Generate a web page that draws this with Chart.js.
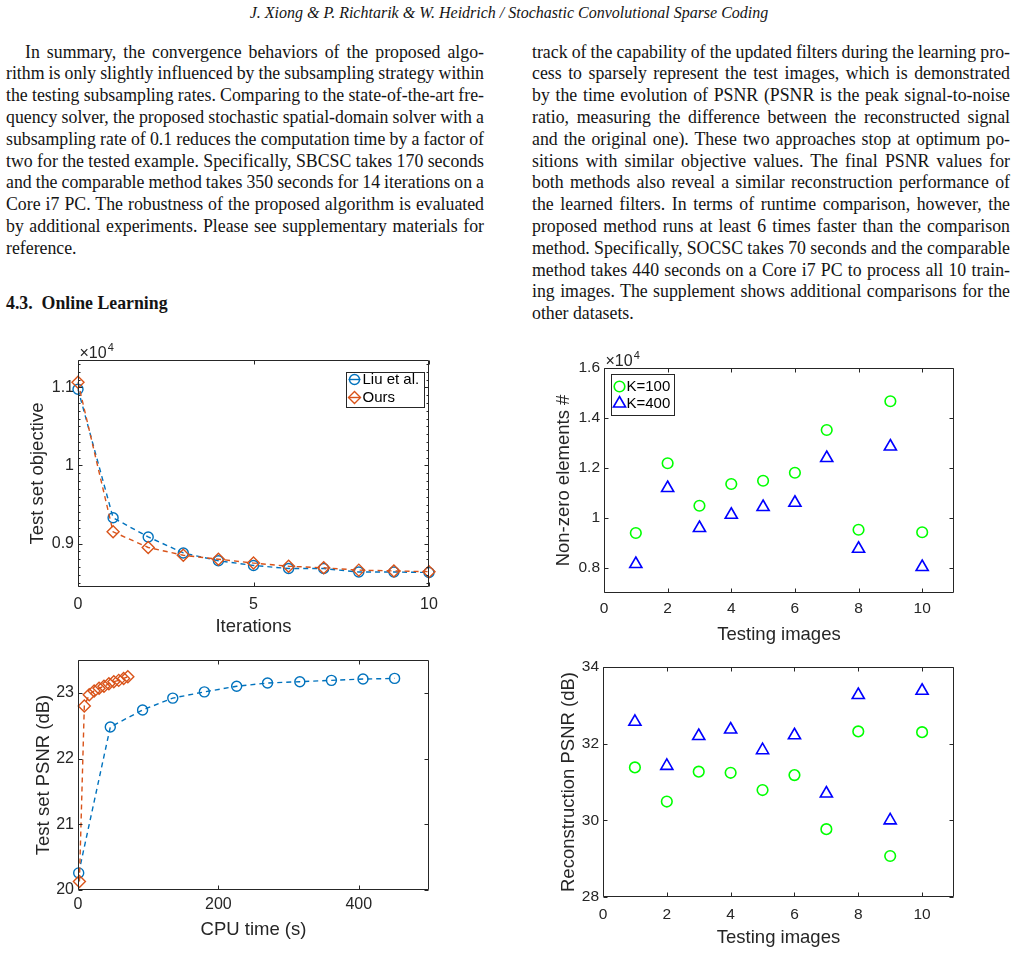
<!DOCTYPE html>
<html>
<head>
<meta charset="utf-8">
<script src="https://cdn.jsdelivr.net/npm/chart.js@4.4.1/dist/chart.umd.min.js"></script>
<style>
  html, body { margin: 0; padding: 0; background: #fff; }
  body { width: 1018px; height: 962px; position: relative; overflow: hidden;
         font-family: "Liberation Serif", "Times New Roman", serif; color: #141414; }
  .hdr { position: absolute; top: 3px; left: 0; width: 1018px; text-align: center;
         font-style: italic; font-size: 16px; line-height: 20px; }
  .ln { position: absolute; white-space: nowrap; font-size: 17.8px; line-height: 22px; }
  .sec { position: absolute; left: 6px; top: 292px; font-weight: bold; font-size: 17.8px; line-height: 22px; }
  .plot { position: absolute; }
</style>
</head>
<body>
<div class="hdr">J. Xiong &amp; P. Richtarik &amp; W. Heidrich / Stochastic Convolutional Sparse Coding</div>
<div class="sec">4.3.&nbsp; Online Learning</div>

<div class="plot" style="left:20px;top:335px"><canvas id="objChart" width="430" height="310"></canvas></div>
<div class="plot" style="left:20px;top:645px"><canvas id="psnrTimeChart" width="430" height="310"></canvas></div>
<div class="plot" style="left:540px;top:340px"><canvas id="nonzeroChart" width="440" height="310"></canvas></div>
<div class="plot" style="left:540px;top:650px"><canvas id="reconChart" width="440" height="310"></canvas></div>

<script>
// ---- data ----

// test set objective vs iterations
const iterations = [0, 1, 2, 3, 4, 5, 6, 7, 8, 9, 10];
const liuObjective = [10975, 9330, 9085, 8880, 8780, 8720, 8680, 8680, 8636, 8636, 8630];
const oursObjective = [11065, 9150, 8950, 8850, 8800, 8750, 8710, 8690, 8660, 8650, 8640];
const iterTicks = [0, 5, 10];
const objTicks = [9000, 10000, 11000];

// test set PSNR vs CPU time
const liuTime = [1, 46, 92, 135, 180, 226, 270, 316, 361, 406, 451];
const liuPSNR = [20.26, 22.48, 22.74, 22.92, 23.015, 23.1, 23.15, 23.17, 23.19, 23.21, 23.22];
const oursTime = [2, 9, 16, 23, 30, 37, 44, 51, 58, 65, 71];
const oursPSNR = [20.13, 22.8, 22.97, 23.03, 23.07, 23.1, 23.14, 23.17, 23.19, 23.22, 23.245];
const timeTicks = [0, 200, 400];
const psnrTicks = [20, 21, 22, 23];

// per testing image, K=100 vs K=400 filters
const testingImages = [1, 2, 3, 4, 5, 6, 7, 8, 9, 10];
const k100Nonzero = [9400, 12190, 10490, 11360, 11490, 11810, 13520, 9530, 14670, 9430];
const k400Nonzero = [8160, 11200, 9600, 10130, 10440, 10610, 12400, 8770, 12860, 8040];
const k100Recon = [31.38, 30.49, 31.27, 31.24, 30.79, 31.18, 29.77, 32.32, 29.07, 32.30];
const k400Recon = [32.57, 31.42, 32.20, 32.37, 31.83, 32.22, 30.70, 33.27, 30.00, 33.38];
const imageTicks = [0, 2, 4, 6, 8, 10];
const nonzeroTicks = [8000, 10000, 12000, 14000, 16000];
const reconTicks = [28, 30, 32, 34];

const leftText = [
  "In summary, the convergence behaviors of the proposed algo-",
  "rithm is only slightly influenced by the subsampling strategy within",
  "the testing subsampling rates. Comparing to the state-of-the-art fre-",
  "quency solver, the proposed stochastic spatial-domain solver with a",
  "subsampling rate of 0.1 reduces the computation time by a factor of",
  "two for the tested example. Specifically, SBCSC takes 170 seconds",
  "and the comparable method takes 350 seconds for 14 iterations on a",
  "Core i7 PC. The robustness of the proposed algorithm is evaluated",
  "by additional experiments. Please see supplementary materials for",
  "reference."
];
const rightText = [
  "track of the capability of the updated filters during the learning pro-",
  "cess to sparsely represent the test images, which is demonstrated",
  "by the time evolution of PSNR (PSNR is the peak signal-to-noise",
  "ratio, measuring the difference between the reconstructed signal",
  "and the original one). These two approaches stop at optimum po-",
  "sitions with similar objective values. The final PSNR values for",
  "both methods also reveal a similar reconstruction performance of",
  "the learned filters. In terms of runtime comparison, however, the",
  "proposed method runs at least 6 times faster than the comparison",
  "method. Specifically, SOCSC takes 70 seconds and the comparable",
  "method takes 440 seconds on a Core i7 PC to process all 10 train-",
  "ing images. The supplement shows additional comparisons for the",
  "other datasets."
];

// justified text lines (word-spacing stretched to the column width)
function placeLines(lines, left, width, firstCenter, step, indent) {
  lines.forEach((t, i) => {
    const d = document.createElement("div");
    d.className = "ln";
    d.textContent = t;
    const ind = i === 0 ? indent : 0;
    d.style.left = (left + ind) + "px";
    d.style.top = (firstCenter + i * step - 11) + "px";
    document.body.appendChild(d);
    if (i < lines.length - 1) {
      const w = d.getBoundingClientRect().width;
      const spaces = (t.match(/ /g) || []).length;
      d.style.wordSpacing = ((width - ind - w) / spaces) + "px";
    }
  });
}
placeLines(leftText, 6, 478, 51.5, 21.8, 19);
placeLines(rightText, 532, 478, 51.5, 21.8, 0);

const SANS = '"Liberation Sans", Arial, Helvetica, sans-serif';
const INK = "#262626";
const BLUE = "#0072BD", ORANGE = "#D95319";

function drawMarker(ctx, style, x, y, r) {
  ctx.beginPath();
  if (style === "circle") {
    ctx.arc(x, y, r, 0, Math.PI * 2);
  } else if (style === "rectRot") {
    ctx.moveTo(x, y - r); ctx.lineTo(x + r, y); ctx.lineTo(x, y + r); ctx.lineTo(x - r, y); ctx.closePath();
  } else if (style === "triangle") {
    const h = Math.sqrt(3) / 2 * r;
    ctx.moveTo(x, y - r); ctx.lineTo(x + h, y + r / 2); ctx.lineTo(x - h, y + r / 2); ctx.closePath();
  }
  ctx.stroke();
}

// MATLAB style box, inward ticks, exponent label and legend
const matlabAxes = {
  id: "matlabAxes",
  afterDatasetsDraw(chart, args, o) {
    const { ctx, chartArea: a } = chart;
    const xs = chart.scales.x, ys = chart.scales.y;
    const L = Math.round(a.left) + 0.5, R = Math.round(a.right) - 0.5;
    const T = Math.round(a.top) + 0.5, B = Math.round(a.bottom) - 0.5;
    ctx.save();
    ctx.strokeStyle = INK;
    ctx.lineWidth = 1;
    ctx.beginPath();
    ctx.rect(L, T, R - L, B - T);
    xs.ticks.forEach(t => {
      const p = Math.round(xs.getPixelForValue(t.value)) + 0.5;
      ctx.moveTo(p, B); ctx.lineTo(p, B - 4);
      ctx.moveTo(p, T); ctx.lineTo(p, T + 4);
    });
    ys.ticks.forEach(t => {
      const p = Math.round(ys.getPixelForValue(t.value)) + 0.5;
      ctx.moveTo(L, p); ctx.lineTo(L + 4, p);
      ctx.moveTo(R, p); ctx.lineTo(R - 4, p);
    });
    if (o.minorY) {
      for (let v = Math.ceil(ys.min / o.minorY) * o.minorY; v <= ys.max; v += o.minorY) {
        const p = Math.round(ys.getPixelForValue(v)) + 0.5;
        ctx.moveTo(L, p); ctx.lineTo(L + 2, p);
        ctx.moveTo(R, p); ctx.lineTo(R - 2, p);
      }
    }
    ctx.stroke();

    if (o.exponent) {
      ctx.fillStyle = INK;
      ctx.textBaseline = "alphabetic";
      ctx.font = "16px " + SANS;
      ctx.fillText("\u00d710", L + 1, T - 3);
      const w = ctx.measureText("\u00d710").width;
      ctx.font = "11px " + SANS;
      ctx.fillText("4", L + 1 + w + 1, T - 10);
    }

    if (o.legend) {
      const lg = o.legend;
      const bx = lg.right ? R - lg.dx - lg.w : L + lg.dx;
      const by = T + lg.dy;
      ctx.fillStyle = "#fff";
      ctx.fillRect(bx, by, lg.w, lg.h);
      ctx.strokeStyle = INK;
      ctx.strokeRect(Math.round(bx) + 0.5, Math.round(by) + 0.5, lg.w, lg.h);
      ctx.font = "15px " + SANS;
      ctx.textBaseline = "middle";
      chart.data.datasets.forEach((ds, i) => {
        const cy = by + lg.rowY[i];
        const mx = bx + lg.mx;
        ctx.strokeStyle = ds.borderColor;
        ctx.lineWidth = ds.pointBorderWidth;
        if (ds.showLine) {
          ctx.beginPath(); ctx.moveTo(mx - 6, cy); ctx.lineTo(mx + 6, cy); ctx.stroke();
        }
        drawMarker(ctx, ds.pointStyle, mx, cy, ds.pointRadius);
        ctx.fillStyle = "#000";
        ctx.fillText(ds.label, bx + lg.tx, cy + 0.5);
      });
    }
    ctx.restore();
  }
};

function series(label, xs, ys, color, style, radius, line) {
  return {
    label: label,
    data: xs.map((x, i) => ({ x: x, y: ys[i] })),
    showLine: line,
    borderColor: color,
    borderWidth: 1.4,
    borderDash: [5, 4],
    pointStyle: style,
    pointRadius: radius,
    pointBorderColor: color,
    pointBorderWidth: line ? 1.4 : 1.6,
    pointBackgroundColor: "rgba(0,0,0,0)",
    tension: 0,
    clip: false
  };
}

function makeChart(id, c) {
  const tickFont = { family: SANS, size: c.tickSize };
  const titleFont = { family: SANS, size: 18.5 };
  return new Chart(document.getElementById(id).getContext("2d"), {
    type: "scatter",
    data: { datasets: c.datasets },
    options: {
      responsive: false,
      animation: false,
      events: [],
      layout: { padding: { left: 0, top: c.top, right: c.right, bottom: 0 } },
      scales: {
        x: {
          type: "linear", min: c.xMin, max: c.xMax,
          grid: { display: false, drawTicks: false },
          border: { display: false },
          afterBuildTicks: s => { s.ticks = c.xTicks.map(v => ({ value: v })); },
          afterFit: s => { s.height = c.xHeight; },
          ticks: { font: tickFont, color: INK, padding: c.xPad, maxRotation: 0 },
          title: { display: true, text: c.xTitle, color: INK, font: titleFont, padding: { top: 0, bottom: c.xTitlePad } }
        },
        y: {
          type: "linear", min: c.yMin, max: c.yMax,
          grid: { display: false, drawTicks: false },
          border: { display: false },
          afterBuildTicks: s => { s.ticks = c.yTicks.map(v => ({ value: v })); },
          afterFit: s => { s.width = c.yWidth; },
          ticks: { font: tickFont, color: INK, padding: 4, callback: c.yFmt || (v => v) },
          title: { display: true, text: c.yTitle, color: INK, font: titleFont, padding: { top: c.yTitlePad, bottom: 0 } }
        }
      },
      plugins: {
        legend: { display: false },
        tooltip: { enabled: false },
        matlabAxes: c.extra || {}
      }
    },
    plugins: [matlabAxes]
  });
}

const liuObj = series("Liu et al.", iterations, liuObjective, BLUE, "circle", 5, true);
const oursObj = series("Ours", iterations, oursObjective, ORANGE, "rectRot", 6, true);
oursObj.order = 0; liuObj.order = 1;

makeChart("objChart", {
  datasets: [liuObj, oursObj],
  xMin: 0, xMax: 10, yMin: 8444, yMax: 11350,
  xTicks: iterTicks, yTicks: objTicks, yFmt: v => String(v / 1e4),
  yWidth: 58, xHeight: 58, top: 25, right: 21,
  tickSize: 16, xPad: 7.5, xTitlePad: 7, yTitlePad: 7,
  xTitle: "Iterations", yTitle: "Test set objective",
  extra: { minorY: 100, exponent: true,
           legend: { right: true, dx: 5, dy: 11, w: 78, h: 35, mx: 9, tx: 17, rowY: [8, 26] } }
});

const liuTimeSeries = series("Liu et al.", liuTime, liuPSNR, BLUE, "circle", 5, true);
const oursTimeSeries = series("Ours", oursTime, oursPSNR, ORANGE, "rectRot", 6, true);
oursTimeSeries.order = 0; liuTimeSeries.order = 1;

makeChart("psnrTimeChart", {
  datasets: [liuTimeSeries, oursTimeSeries],
  xMin: 0, xMax: 500, yMin: 20, yMax: 23.5,
  xTicks: timeTicks, yTicks: psnrTicks,
  yWidth: 58, xHeight: 65, top: 15, right: 21,
  tickSize: 16, xPad: 4.5, xTitlePad: 13.5, yTitlePad: 13,
  xTitle: "CPU time (s)", yTitle: "Test set PSNR (dB)"
});

makeChart("nonzeroChart", {
  datasets: [
    series("K=100", testingImages, k100Nonzero, "#00FF00", "circle", 5.3, false),
    series("K=400", testingImages, k400Nonzero, "#0000FF", "triangle", 7, false)
  ],
  xMin: 0, xMax: 11, yMin: 7000, yMax: 16000,
  xTicks: imageTicks, yTicks: nonzeroTicks, yFmt: v => String(v / 1e4),
  yWidth: 64, xHeight: 57, top: 28, right: 26,
  tickSize: 15.5, xPad: 6.5, xTitlePad: 3.6, yTitlePad: 13,
  xTitle: "Testing images", yTitle: "Non-zero elements #",
  extra: { exponent: true,
           legend: { right: false, dx: 6, dy: 5, w: 63, h: 41, mx: 9, tx: 16, rowY: [13, 30] } }
});

makeChart("reconChart", {
  datasets: [
    series("K=100", testingImages, k100Recon, "#00FF00", "circle", 5.3, false),
    series("K=400", testingImages, k400Recon, "#0000FF", "triangle", 7, false)
  ],
  xMin: 0, xMax: 11, yMin: 28, yMax: 34,
  xTicks: imageTicks, yTicks: reconTicks,
  yWidth: 63, xHeight: 63, top: 17, right: 26,
  tickSize: 15.5, xPad: 8, xTitlePad: 10.5, yTitlePad: 18,
  xTitle: "Testing images", yTitle: "Reconstruction PSNR (dB)"
});
</script>
</body>
</html>
